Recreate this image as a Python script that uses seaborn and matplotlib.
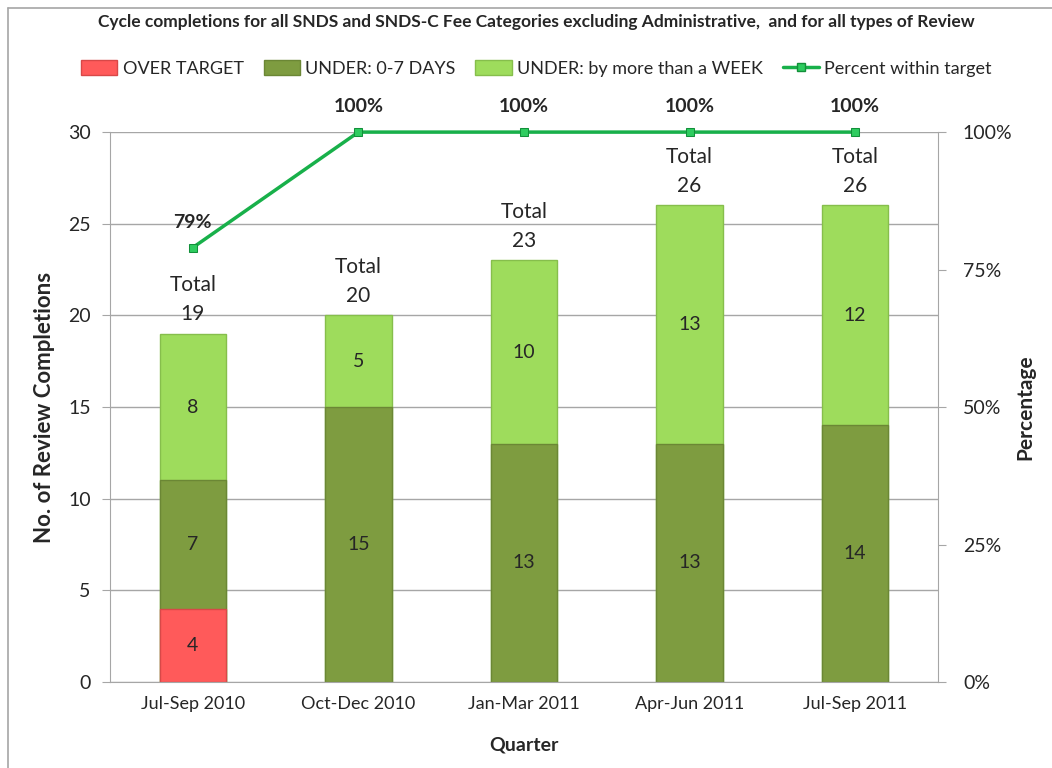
import numpy as np
import pandas as pd
import matplotlib
matplotlib.use('Agg')
import matplotlib.pyplot as plt
import seaborn as sns
from matplotlib.lines import Line2D
from matplotlib.patches import Patch

# chart data
quarters = ['Jul-Sep 2010', 'Oct-Dec 2010', 'Jan-Mar 2011', 'Apr-Jun 2011', 'Jul-Sep 2011']
over_target = [4, 0, 0, 0, 0]
under_0_7 = [7, 15, 13, 13, 14]
under_week = [8, 5, 10, 13, 12]
pct_within = [0.79, 1.00, 1.00, 1.00, 1.00]

df = pd.DataFrame({'Quarter': quarters, 'over': over_target,
                   'mid': under_0_7, 'week': under_week, 'pct': pct_within})
df['lvl1'] = df['over']
df['lvl2'] = df['over'] + df['mid']
df['total'] = df['lvl2'] + df['week']

sns.set_style('white')
plt.rcParams['font.family'] = ['Lato', 'DejaVu Sans']

red = '#FF5A5A'
dark = '#7E9C40'
light = '#9EDC5C'
line_col = '#18B04A'

fig = plt.figure(figsize=(10.52, 7.68), dpi=100)
ax = fig.add_axes([0.1046, 0.112, 0.787, 0.716])

# stacked bars drawn back to front
sns.barplot(data=df, x='Quarter', y='total', color=light, width=0.4, ax=ax,
            saturation=1, edgecolor='#86BE4C', linewidth=1)
sns.barplot(data=df, x='Quarter', y='lvl2', color=dark, width=0.4, ax=ax,
            saturation=1, edgecolor='#6B8735', linewidth=1)
sns.barplot(data=df, x='Quarter', y='lvl1', color=red, width=0.4, ax=ax,
            saturation=1, edgecolor='#D84848', linewidth=1)
for p in ax.patches:
    if p.get_height() == 0:
        p.set_visible(False)

ax.set_xlim(-0.5, 4.5)
ax.set_ylim(0, 30)
ax.set_yticks(range(0, 31, 5))
ax.grid(axis='y', color='#A6A6A6', linewidth=1)
ax.set_axisbelow(True)
for s in ['left', 'bottom', 'right']:
    ax.spines[s].set_color('#A6A6A6')
ax.spines['top'].set_visible(False)
ax.tick_params(axis='y', length=6, color='#A6A6A6', labelsize=14, pad=8)
ax.tick_params(axis='x', length=0, labelsize=13, pad=10)
ax.set_xticks(np.arange(-0.5, 5, 1), minor=True)
ax.tick_params(axis='x', which='minor', length=6, color='#A6A6A6')
ax.set_xlabel('Quarter', fontsize=14, fontweight='bold', labelpad=18)
ax.set_ylabel('No. of Review Completions', fontsize=16, fontweight='bold')
ax.yaxis.set_label_coords(-0.066, 0.5)

# segment labels
for i, r in df.iterrows():
    if r['over'] > 0:
        ax.text(i, r['over'] / 2, str(r['over']), ha='center', va='center', fontsize=14)
    ax.text(i, r['lvl1'] + r['mid'] / 2, str(r['mid']), ha='center', va='center', fontsize=14)
    ax.text(i, r['lvl2'] + r['week'] / 2, str(r['week']), ha='center', va='center', fontsize=14)
    ax.annotate('Total\n' + str(r['total']), (i, r['total']), xytext=(0, 7),
                textcoords='offset points', ha='center', va='bottom',
                fontsize=15, linespacing=1.55)

# percent line on secondary axis
ax2 = ax.twinx()
sns.lineplot(x=np.arange(len(quarters)), y=df['pct'], ax=ax2, color=line_col,
             linewidth=2.5, marker='s', markersize=6, markerfacecolor='#2ECC5F',
             markeredgecolor='#12903A', clip_on=False)
ax2.set_ylim(0, 1)
ax2.set_yticks([0, 0.25, 0.5, 0.75, 1.0])
ax2.set_yticklabels(['0%', '25%', '50%', '75%', '100%'])
ax2.tick_params(axis='y', length=6, color='#A6A6A6', labelsize=14, pad=12)
ax2.set_ylabel('Percentage', fontsize=15, fontweight='bold')
ax2.yaxis.set_label_coords(1.094, 0.5)
for s in ax2.spines.values():
    s.set_visible(False)
for i, v in enumerate(pct_within):
    ax2.annotate(f'{v:.0%}', (i, v), xytext=(0, 12), textcoords='offset points',
                 ha='center', va='bottom', fontsize=14, fontweight='bold')

fig.text(0.51, 0.971, 'Cycle completions for all SNDS and SNDS-C Fee Categories excluding Administrative,  and for all types of Review',
         ha='center', va='center', fontsize=12.5, fontweight='bold')

handles = [Patch(facecolor=red, edgecolor='#D84848'),
           Patch(facecolor=dark, edgecolor='#6B8735'),
           Patch(facecolor=light, edgecolor='#86BE4C'),
           Line2D([], [], color=line_col, lw=2.5, marker='s', markersize=6,
                  markerfacecolor='#2ECC5F', markeredgecolor='#12903A')]
labels = ['OVER TARGET', 'UNDER: 0-7 DAYS', 'UNDER: by more than a WEEK', 'Percent within target']
fig.legend(handles, labels, loc='center', bbox_to_anchor=(0.51, 0.911), ncol=4,
           frameon=False, fontsize=13, handlelength=2.0, handleheight=0.9,
           handletextpad=0.3, columnspacing=1.1)

# chart border
fig.add_artist(Line2D([0.0076, 1.0], [0.9896, 0.9896], color='#A6A6A6', lw=1.2))
fig.add_artist(Line2D([0.0076, 0.0076], [0.0, 0.9896], color='#A6A6A6', lw=1.2))

fig.savefig('out.png', dpi=100)
